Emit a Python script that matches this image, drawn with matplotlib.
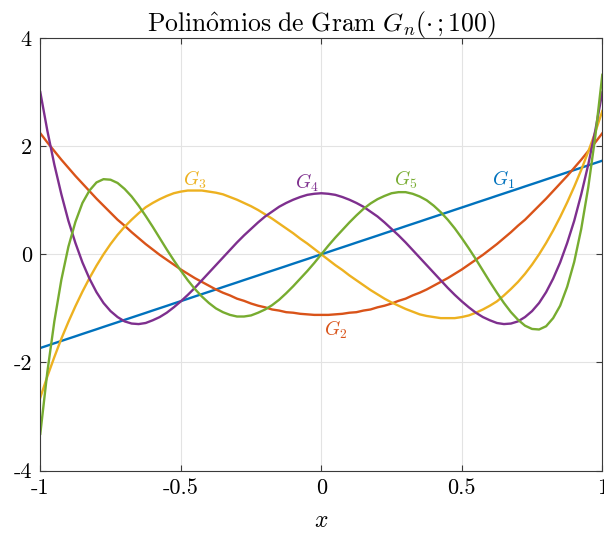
import matplotlib
matplotlib.use("Agg")
import matplotlib.pyplot as plt

plt.rcParams['font.family'] = 'serif'
plt.rcParams['font.serif'] = ['cmr10']
plt.rcParams['mathtext.fontset'] = 'cm'
plt.rcParams['axes.formatter.use_mathtext'] = True
plt.rcParams['axes.unicode_minus'] = False

# sample points (step 0.025)
x = [-1, -0.975, -0.95, -0.925, -0.9, -0.875, -0.85, -0.825, -0.8, -0.775,
     -0.75, -0.725, -0.7, -0.675, -0.65, -0.625, -0.6, -0.575, -0.55, -0.525,
     -0.5, -0.475, -0.45, -0.425, -0.4, -0.375, -0.35, -0.325, -0.3, -0.275,
     -0.25, -0.225, -0.2, -0.175, -0.15, -0.125, -0.1, -0.075, -0.05, -0.025,
     0, 0.025, 0.05, 0.075, 0.1, 0.125, 0.15, 0.175, 0.2, 0.225,
     0.25, 0.275, 0.3, 0.325, 0.35, 0.375, 0.4, 0.425, 0.45, 0.475,
     0.5, 0.525, 0.55, 0.575, 0.6, 0.625, 0.65, 0.675, 0.7, 0.725,
     0.75, 0.775, 0.8, 0.825, 0.85, 0.875, 0.9, 0.925, 0.95, 0.975, 1]

G1 = [-1.732, -1.689, -1.645, -1.602, -1.559, -1.516, -1.472, -1.429, -1.386, -1.342,
      -1.299, -1.256, -1.212, -1.169, -1.126, -1.083, -1.039, -0.996, -0.953, -0.909,
      -0.866, -0.823, -0.779, -0.736, -0.693, -0.650, -0.606, -0.563, -0.520, -0.476,
      -0.433, -0.390, -0.346, -0.303, -0.260, -0.217, -0.173, -0.130, -0.087, -0.043,
      0, 0.043, 0.087, 0.130, 0.173, 0.217, 0.260, 0.303, 0.346, 0.390,
      0.433, 0.476, 0.520, 0.563, 0.606, 0.650, 0.693, 0.736, 0.779, 0.823,
      0.866, 0.909, 0.953, 0.996, 1.039, 1.083, 1.126, 1.169, 1.212, 1.256,
      1.299, 1.342, 1.386, 1.429, 1.472, 1.516, 1.559, 1.602, 1.645, 1.689, 1.732]

G2 = [2.24, 2.07, 1.91, 1.75, 1.60, 1.45, 1.31, 1.17, 1.03, 0.90,
      0.77, 0.64, 0.53, 0.41, 0.30, 0.19, 0.09, -0.01, -0.10, -0.19,
      -0.28, -0.36, -0.44, -0.51, -0.58, -0.65, -0.71, -0.76, -0.82, -0.86,
      -0.91, -0.95, -0.98, -1.02, -1.04, -1.07, -1.08, -1.10, -1.11, -1.12,
      -1.12, -1.12, -1.11, -1.10, -1.08, -1.07, -1.04, -1.02, -0.98, -0.95,
      -0.91, -0.86, -0.82, -0.76, -0.71, -0.65, -0.58, -0.51, -0.44, -0.36,
      -0.28, -0.19, -0.10, -0.01, 0.09, 0.19, 0.30, 0.41, 0.53, 0.64,
      0.77, 0.90, 1.03, 1.17, 1.31, 1.45, 1.60, 1.75, 1.91, 2.07, 2.24]

G3 = [-2.65, -2.26, -1.90, -1.56, -1.25, -0.96, -0.69, -0.44, -0.21, 0.00,
      0.19, 0.36, 0.51, 0.64, 0.76, 0.87, 0.95, 1.02, 1.08, 1.13,
      1.16, 1.18, 1.18, 1.18, 1.16, 1.14, 1.11, 1.06, 1.01, 0.95,
      0.89, 0.82, 0.74, 0.66, 0.57, 0.48, 0.39, 0.29, 0.20, 0.10,
      0, -0.10, -0.20, -0.29, -0.39, -0.48, -0.57, -0.66, -0.74, -0.82,
      -0.89, -0.95, -1.01, -1.06, -1.11, -1.14, -1.16, -1.18, -1.18, -1.18,
      -1.16, -1.13, -1.08, -1.02, -0.95, -0.87, -0.76, -0.64, -0.51, -0.36,
      -0.19, 0.00, 0.21, 0.44, 0.69, 0.96, 1.25, 1.56, 1.90, 2.26, 2.65]

G4 = [3.00, 2.29, 1.66, 1.11, 0.62, 0.21, -0.15, -0.45, -0.70, -0.90,
      -1.05, -1.16, -1.24, -1.28, -1.29, -1.27, -1.22, -1.16, -1.08, -0.98,
      -0.87, -0.75, -0.62, -0.48, -0.34, -0.20, -0.06, 0.08, 0.22, 0.35,
      0.47, 0.59, 0.70, 0.79, 0.88, 0.95, 1.01, 1.06, 1.10, 1.12,
      1.13, 1.12, 1.10, 1.06, 1.01, 0.95, 0.88, 0.79, 0.70, 0.59,
      0.47, 0.35, 0.22, 0.08, -0.06, -0.20, -0.34, -0.48, -0.62, -0.75,
      -0.87, -0.98, -1.08, -1.16, -1.22, -1.27, -1.29, -1.28, -1.24, -1.16,
      -1.05, -0.90, -0.70, -0.45, -0.15, 0.21, 0.62, 1.11, 1.66, 2.29, 3.00]

G5 = [-3.32, -2.18, -1.24, -0.47, 0.14, 0.60, 0.95, 1.18, 1.33, 1.39,
      1.38, 1.32, 1.21, 1.07, 0.90, 0.71, 0.51, 0.30, 0.09, -0.11,
      -0.30, -0.48, -0.64, -0.78, -0.90, -1.00, -1.07, -1.12, -1.15, -1.15,
      -1.13, -1.08, -1.02, -0.94, -0.84, -0.72, -0.59, -0.45, -0.31, -0.16,
      0, 0.16, 0.31, 0.45, 0.59, 0.72, 0.84, 0.94, 1.02, 1.08,
      1.13, 1.15, 1.15, 1.12, 1.07, 1.00, 0.90, 0.78, 0.64, 0.48,
      0.30, 0.11, -0.09, -0.30, -0.51, -0.71, -0.90, -1.07, -1.21, -1.32,
      -1.38, -1.39, -1.33, -1.18, -0.95, -0.60, -0.14, 0.47, 1.24, 2.18, 3.32]

series = [G1, G2, G3, G4, G5]
names = ['$G_1$', '$G_2$', '$G_3$', '$G_4$', '$G_5$']
colors = ['#0072BD', '#D95319', '#EDB120', '#7E2F8E', '#77AC30']
label_pos = [(0.65, 1.38), (0.05, -1.40), (-0.45, 1.38), (-0.05, 1.33), (0.30, 1.38)]

xticks = [-1, -0.5, 0, 0.5, 1]
xticklabels = ['-1', '-0.5', '0', '0.5', '1']
yticks = [-4, -2, 0, 2, 4]
yticklabels = ['-4', '-2', '0', '2', '4']

fig = plt.figure(figsize=(6.04, 5.36), dpi=100)
ax = fig.add_axes([0.0667, 0.122, 0.9305, 0.807])

for ys, c in zip(series, colors):
	ax.plot(x, ys, color=c, lw=1.7, solid_joinstyle='round')

for name, (tx, ty), c in zip(names, label_pos, colors):
	ax.text(tx, ty, name, color=c, fontsize=14, ha='center', va='center')

ax.set_xlim(-1, 1)
ax.set_ylim(-4, 4)
ax.set_xticks(xticks)
ax.set_xticklabels(xticklabels)
ax.set_yticks(yticks)
ax.set_yticklabels(yticklabels)
ax.grid(True, color='#e3e3e3', lw=0.8)
ax.set_axisbelow(True)
for sp in ax.spines.values():
	sp.set_color('#3a3a3a')
	sp.set_linewidth(0.8)
ax.tick_params(direction='in', top=True, right=True, length=4, width=0.8,
               color='#3a3a3a', labelsize=16, pad=6)

ax.set_xlabel('$x$', fontsize=17, labelpad=8)
ax.set_title(r'$\mathrm{Polin\hat{o}mios\ de\ Gram}\ G_n(\cdot\,;100)$', fontsize=18.5, pad=5)

plt.savefig('out.png', dpi=100)
